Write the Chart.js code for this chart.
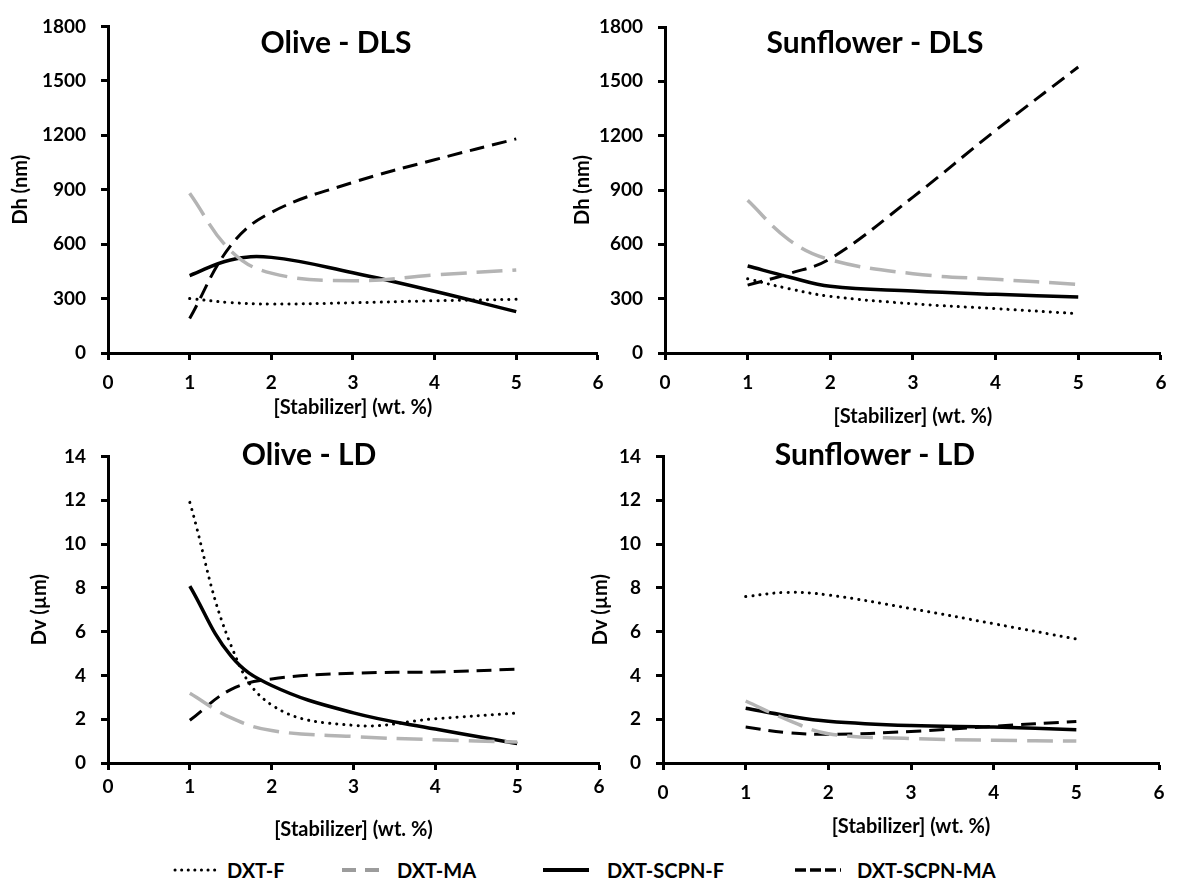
<!DOCTYPE html>
<html lang="en">
<head>
  <meta charset="UTF-8" />
  <title>Droplet size vs stabilizer</title>
  <script src="https://cdn.jsdelivr.net/npm/chart.js"></script>
  <style>
    body { margin: 0; background: #fff; width: 1178px; height: 884px; position: relative; overflow: hidden; font-family: Lato, "Open Sans", sans-serif; }
    canvas { position: absolute; }
    .leg { position: absolute; top: 858px; height: 24px; }
    .leg span { position: absolute; font: bold 20px Lato, sans-serif; line-height: 24px; white-space: nowrap; }
    .leg svg { position: absolute; top: 0; }
  </style>
</head>
<body>
  <canvas id="olDls" width="615" height="440" style="left:0;top:0"></canvas>
  <canvas id="sunDls" width="623" height="440" style="left:555px;top:0"></canvas>
  <canvas id="olLd" width="615" height="420" style="left:0;top:430px"></canvas>
  <canvas id="sunLd" width="623" height="420" style="left:555px;top:430px"></canvas>

  <div class="leg" id="legenda"></div>

  <script>
    // concentrações
    const conc = [1, 1.5, 2, 3, 4, 5];
    const seriesNames = ['DXT-F', 'DXT-MA', 'DXT-SCPN-F', 'DXT-SCPN-MA'];
    const xTicks = [0, 1, 2, 3, 4, 5, 6];

    // Olive - DLS (nm)
    const oliveDlsF      = [300, 278, 270, 277, 288, 296];
    const oliveDlsMA     = [880, 565, 440, 398, 430, 458];
    const oliveDlsScpnF  = [427, 513, 527, 442, 340, 228];
    const oliveDlsScpnMA = [190, 590, 775, 940, 1065, 1180];

    // Sunflower - DLS (nm)
    const sunDlsF      = [410, 355, 313, 272, 245, 217];
    const sunDlsMA     = [843, 625, 515, 438, 407, 379];
    const sunDlsScpnF  = [480, 420, 368, 342, 324, 309];
    const sunDlsScpnMA = [375, 438, 521, 861, 1229, 1579];

    // Olive - LD (um)
    const oliveLdF      = [11.9, 5.4, 2.65, 1.72, 2.02, 2.28];
    const oliveLdMA     = [3.18, 2.07, 1.48, 1.21, 1.06, 0.96];
    const oliveLdScpnF  = [8.08, 4.9, 3.54, 2.29, 1.55, 0.89];
    const oliveLdScpnMA = [1.95, 3.35, 3.84, 4.1, 4.16, 4.28];

    // Sunflower - LD (um)
    const sunLdF      = [7.6, 7.79, 7.67, 7.05, 6.36, 5.66];
    const sunLdMA     = [2.83, 1.98, 1.34, 1.12, 1.04, 1.0];
    const sunLdScpnF  = [2.5, 2.16, 1.91, 1.71, 1.64, 1.52];
    const sunLdScpnMA = [1.64, 1.39, 1.31, 1.44, 1.68, 1.9];

    const estilos = [
      { borderColor: '#000', borderWidth: 3, borderDash: [0.1, 7], borderCapStyle: 'round' },
      { borderColor: '#b4b4b4', borderWidth: 3.5, borderDash: [26, 10] },
      { borderColor: '#000', borderWidth: 3.5 },
      { borderColor: '#000', borderWidth: 3, borderDash: [15, 8] }
    ];

    Chart.defaults.font.family = "Lato, 'Open Sans', sans-serif";
    Chart.defaults.font.weight = 'bold';
    Chart.defaults.color = '#000';

    // título do painel desenhado dentro da área do gráfico
    const tituloPainel = {
      id: 'tituloPainel',
      afterDraw(chart, args, opts) {
        const ctx = chart.ctx;
        ctx.save();
        ctx.font = "bold 30px Lato, 'Open Sans', sans-serif";
        ctx.fillStyle = '#000';
        ctx.textAlign = 'center';
        ctx.textBaseline = 'middle';
        ctx.fillText(opts.text, opts.x, opts.y);
        ctx.restore();
      }
    };

    function criarPainel(id, cfg) {
      const datasets = cfg.series.map((arr, i) => ({
        label: seriesNames[i],
        data: conc.map((x, j) => ({ x: x, y: arr[j] })),
        ...estilos[i],
        fill: false,
        pointRadius: 0,
        tension: 0.4
      }));
      const eixoGrid = { display: true, drawOnChartArea: false, drawTicks: true, tickLength: 7, tickWidth: 3, tickColor: '#000' };
      new Chart(document.getElementById(id), {
        type: 'line',
        data: { datasets: datasets },
        plugins: [tituloPainel],
        options: {
          responsive: false,
          animation: false,
          layout: { padding: cfg.pad },
          plugins: {
            legend: { display: false },
            tooltip: { enabled: false },
            tituloPainel: cfg.titulo
          },
          scales: {
            x: {
              type: 'linear', min: 0, max: 6,
              afterBuildTicks: s => { s.ticks = xTicks.map(v => ({ value: v })); },
              afterFit: s => { s.height = 87; },
              border: { color: '#000', width: 3 },
              grid: eixoGrid,
              ticks: { font: { size: 19, weight: 'bold' }, padding: cfg.xTickPad, callback: v => String(v), maxRotation: 0 },
              title: { display: true, text: '[Stabilizer] (wt. %)', font: { size: 20, weight: 'bold' }, padding: { top: 0, bottom: cfg.xTitlePad } }
            },
            y: {
              min: 0, max: cfg.yMax,
              afterBuildTicks: s => { s.ticks = cfg.yTicks.map(v => ({ value: v })); },
              afterFit: s => { s.width = cfg.yWidth; },
              border: { color: '#000', width: 3 },
              grid: eixoGrid,
              ticks: { font: { size: 19, weight: 'bold' }, padding: 15, callback: v => String(v) },
              title: { display: true, text: cfg.yTitle, font: { size: 20, weight: 'bold' }, padding: { top: cfg.yTitlePad, bottom: 0 } }
            }
          }
        }
      });
    }

    const dlsTicks = [0, 300, 600, 900, 1200, 1500, 1800];
    const ldTicks = [0, 2, 4, 6, 8, 10, 12, 14];

    criarPainel('olDls', {
      series: [oliveDlsF, oliveDlsMA, oliveDlsScpnF, oliveDlsScpnMA],
      pad: { left: 0, top: 22, right: 16, bottom: 0 },
      yWidth: 108, yMax: 1800, yTicks: dlsTicks, yTitle: 'Dh (nm)', yTitlePad: 9,
      xTickPad: 11.6, xTitlePad: 20,
      titulo: { text: 'Olive - DLS', x: 336, y: 43 }
    });
    criarPainel('sunDls', {
      series: [sunDlsF, sunDlsMA, sunDlsScpnF, sunDlsScpnMA],
      pad: { left: 0, top: 27, right: 14.5, bottom: 0 },
      yWidth: 110, yMax: 1800, yTicks: dlsTicks, yTitle: 'Dh (nm)', yTitlePad: 16,
      xTickPad: 11.6, xTitlePad: 11.3,
      titulo: { text: 'Sunflower - DLS', x: 320, y: 43 }
    });
    criarPainel('olLd', {
      series: [oliveLdF, oliveLdMA, oliveLdScpnF, oliveLdScpnMA],
      pad: { left: 0, top: 17, right: 16, bottom: 0 },
      yWidth: 108, yMax: 14, yTicks: ldTicks, yTitle: 'Dv (µm)', yTitlePad: 27.5,
      xTickPad: 5.6, xTitlePad: 8,
      titulo: { text: 'Olive - LD', x: 309, y: 25 }
    });
    criarPainel('sunLd', {
      series: [sunLdF, sunLdMA, sunLdScpnF, sunLdScpnMA],
      pad: { left: 0, top: 18, right: 19, bottom: 0 },
      yWidth: 108, yMax: 14, yTicks: ldTicks, yTitle: 'Dv (µm)', yTitlePad: 34,
      xTickPad: 11.6, xTitlePad: 11.3,
      titulo: { text: 'Sunflower - LD', x: 320, y: 25 }
    });

    // legenda comum em HTML
    const legendaPos = [
      { linha: 173, texto: 227, cor: '#000', dash: '0.1 6.5', cap: 'round', w: 3 },
      { linha: 342, texto: 397, cor: '#9c9c9c', dash: '14 9', cap: 'butt', w: 4 },
      { linha: 543, texto: 607, cor: '#000', dash: 'none', cap: 'butt', w: 4 },
      { linha: 795, texto: 857, cor: '#000', dash: '11 4', cap: 'butt', w: 3.5 }
    ];
    const legenda = document.getElementById('legenda');
    seriesNames.forEach((nome, i) => {
      const p = legendaPos[i];
      const largura = 46;
      legenda.insertAdjacentHTML('beforeend',
        `<svg width="${largura}" height="24" style="left:${p.linha}px">` +
        `<line x1="${p.cap === 'round' ? 2 : 0}" y1="12" x2="${largura}" y2="12" stroke="${p.cor}" stroke-width="${p.w}" stroke-dasharray="${p.dash}" stroke-linecap="${p.cap}"/></svg>` +
        `<span style="left:${p.texto}px">${nome}</span>`);
    });
  </script>
</body>
</html>
